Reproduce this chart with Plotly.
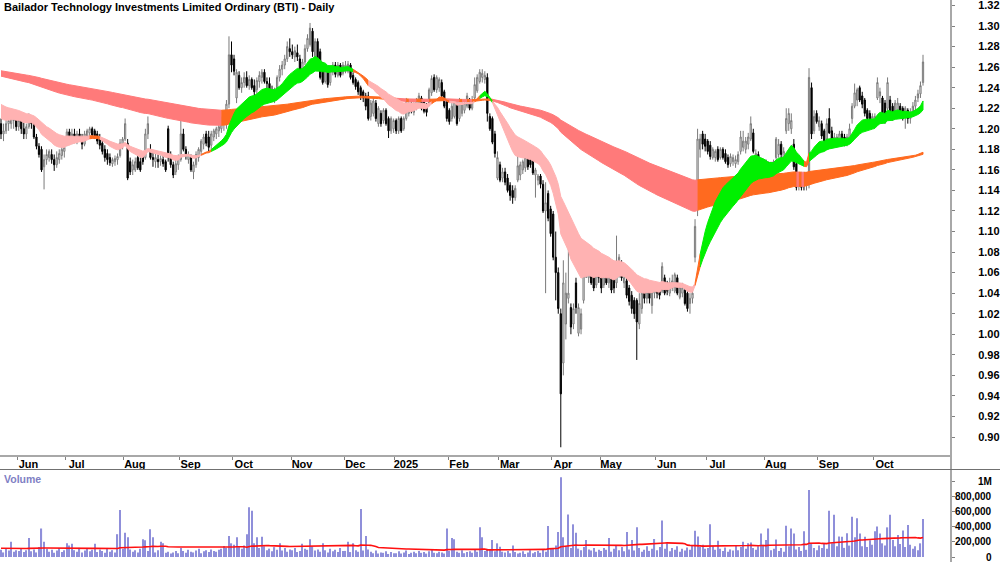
import numpy as np
import pandas as pd
import plotly.graph_objects as go

TITLE = "Bailador Technology Investments Limited Ordinary (BTI) - Daily"

# ---------------- daily bars per month: (open, high, low, close) ----------------
ohlc_2024_05 = [(1.205,1.21,1.19,1.195),(1.195,1.205,1.188,1.198),(1.198,1.21,1.195,1.205),(1.205,1.212,1.198,1.208),
                (1.205,1.215,1.20,1.212),(1.208,1.215,1.20,1.212),(1.212,1.215,1.198,1.202)]
ohlc_2024_06 = [(1.202,1.21,1.198,1.208),(1.208,1.212,1.195,1.20),(1.20,1.208,1.19,1.195),(1.195,1.205,1.19,1.202),
                (1.202,1.215,1.20,1.21),(1.21,1.212,1.20,1.205),(1.205,1.208,1.19,1.192),(1.192,1.195,1.18,1.183),
                (1.183,1.186,1.172,1.175),(1.18,1.183,1.158,1.16),(1.163,1.175,1.141,1.17),(1.17,1.18,1.165,1.175),
                (1.172,1.18,1.168,1.178),(1.175,1.18,1.166,1.17),(1.17,1.175,1.159,1.165),(1.165,1.178,1.162,1.172),
                (1.17,1.18,1.166,1.176),(1.174,1.183,1.17,1.18),(1.178,1.185,1.172,1.182)]
ohlc_2024_07 = [(1.185,1.20,1.183,1.197),(1.197,1.20,1.185,1.188),(1.19,1.20,1.185,1.195),(1.195,1.20,1.186,1.19),
                (1.19,1.198,1.185,1.195),(1.195,1.20,1.188,1.192),(1.192,1.195,1.18,1.185),(1.185,1.198,1.183,1.195),
                (1.193,1.20,1.19,1.198),(1.196,1.202,1.19,1.20),(1.20,1.202,1.192,1.194),(1.198,1.20,1.19,1.193),
                (1.195,1.198,1.185,1.188),(1.19,1.195,1.18,1.184),(1.186,1.19,1.175,1.178),(1.18,1.184,1.168,1.172),
                (1.176,1.18,1.165,1.17),(1.172,1.176,1.164,1.167),(1.166,1.172,1.163,1.17),(1.168,1.174,1.164,1.171),
                (1.17,1.176,1.165,1.173),(1.174,1.19,1.172,1.186),(1.184,1.192,1.18,1.19)]
ohlc_2024_08 = [(1.19,1.21,1.188,1.205),(1.186,1.19,1.15,1.152),(1.168,1.172,1.155,1.158),(1.16,1.17,1.155,1.165),
                (1.16,1.172,1.158,1.168),(1.172,1.176,1.16,1.162),(1.168,1.172,1.158,1.16),(1.172,1.176,1.165,1.168),
                (1.172,1.20,1.17,1.195),(1.195,1.212,1.19,1.205),(1.18,1.185,1.17,1.172),(1.172,1.178,1.163,1.17),
                (1.168,1.176,1.162,1.172),(1.17,1.175,1.162,1.168),(1.168,1.174,1.164,1.171),(1.17,1.175,1.163,1.166),
                (1.168,1.17,1.158,1.16),(1.20,1.203,1.168,1.172),(1.175,1.178,1.162,1.165),(1.165,1.168,1.152,1.155),
                (1.158,1.17,1.155,1.166),(1.165,1.175,1.16,1.172)]
ohlc_2024_09 = [(1.17,1.21,1.168,1.195),(1.195,1.20,1.178,1.18),(1.18,1.183,1.17,1.175),(1.17,1.178,1.166,1.175),
                (1.172,1.175,1.158,1.16),(1.158,1.168,1.151,1.165),(1.165,1.178,1.162,1.175),(1.172,1.182,1.168,1.18),
                (1.178,1.19,1.175,1.188),(1.185,1.195,1.18,1.192),(1.195,1.198,1.183,1.186),(1.192,1.198,1.178,1.182),
                (1.184,1.198,1.18,1.195),(1.192,1.20,1.188,1.198),(1.195,1.202,1.19,1.20),(1.198,1.205,1.192,1.202),
                (1.20,1.212,1.196,1.208),(1.205,1.215,1.198,1.212),(1.205,1.228,1.20,1.224),(1.224,1.29,1.22,1.272),
                (1.272,1.285,1.255,1.262)]
ohlc_2024_10 = [(1.268,1.272,1.252,1.256),(1.23,1.258,1.225,1.255),(1.252,1.256,1.238,1.24),(1.24,1.25,1.235,1.245),
                (1.245,1.255,1.24,1.25),(1.25,1.256,1.24,1.242),(1.242,1.252,1.238,1.248),(1.248,1.25,1.238,1.24),
                (1.242,1.248,1.232,1.236),(1.238,1.25,1.234,1.247),(1.246,1.256,1.24,1.252),(1.25,1.258,1.244,1.255),
                (1.255,1.258,1.244,1.246),(1.246,1.25,1.238,1.244),(1.244,1.25,1.232,1.236),(1.236,1.242,1.226,1.23),
                (1.232,1.24,1.225,1.238),(1.238,1.252,1.235,1.25),(1.25,1.262,1.246,1.258),(1.258,1.266,1.252,1.262),
                (1.262,1.272,1.258,1.268),(1.268,1.285,1.265,1.28),(1.278,1.288,1.27,1.275)]
ohlc_2024_11 = [(1.275,1.282,1.268,1.272),(1.27,1.28,1.265,1.276),(1.274,1.282,1.266,1.27),(1.268,1.272,1.25,1.252),
                (1.252,1.268,1.25,1.265),(1.265,1.282,1.262,1.278),(1.278,1.292,1.275,1.288),(1.282,1.303,1.28,1.298),
                (1.295,1.298,1.27,1.275),(1.27,1.288,1.268,1.285),(1.285,1.288,1.258,1.26),(1.275,1.278,1.248,1.25),
                (1.262,1.265,1.243,1.245),(1.246,1.262,1.244,1.258),(1.255,1.258,1.24,1.243),(1.245,1.262,1.242,1.26),
                (1.255,1.265,1.252,1.262),(1.262,1.265,1.25,1.253),(1.252,1.265,1.25,1.262),(1.262,1.264,1.25,1.252),
                (1.254,1.265,1.252,1.262)]
ohlc_2024_12 = [(1.256,1.266,1.254,1.262),(1.256,1.266,1.254,1.263),(1.262,1.264,1.248,1.25),(1.252,1.255,1.243,1.245),
                (1.248,1.25,1.238,1.241),(1.245,1.247,1.233,1.236),(1.24,1.242,1.228,1.232),(1.236,1.238,1.226,1.23),
                (1.232,1.235,1.218,1.222),(1.232,1.236,1.208,1.21),(1.212,1.228,1.208,1.225),(1.215,1.23,1.212,1.227),
                (1.225,1.228,1.207,1.21),(1.205,1.222,1.202,1.22),(1.215,1.218,1.202,1.205),(1.208,1.22,1.205,1.218),
                (1.218,1.22,1.203,1.205),(1.21,1.212,1.191,1.198),(1.198,1.212,1.195,1.21),(1.20,1.21,1.196,1.208)]
ohlc_2025_01 = [(1.208,1.21,1.195,1.198),(1.198,1.212,1.195,1.21),(1.21,1.212,1.196,1.198),(1.20,1.212,1.198,1.21),
                (1.21,1.23,1.208,1.227),(1.215,1.228,1.212,1.225),(1.225,1.228,1.215,1.217),(1.216,1.226,1.213,1.224),
                (1.22,1.23,1.218,1.228),(1.222,1.235,1.22,1.232),(1.23,1.232,1.218,1.22),(1.226,1.228,1.215,1.217),
                (1.222,1.225,1.212,1.216),(1.225,1.24,1.222,1.238),(1.235,1.252,1.232,1.249),(1.25,1.253,1.236,1.238),
                (1.238,1.252,1.235,1.25),(1.24,1.25,1.236,1.248),(1.245,1.248,1.23,1.232),(1.236,1.238,1.22,1.222),
                (1.226,1.228,1.207,1.21)]
ohlc_2025_02 = [(1.218,1.22,1.204,1.207),(1.21,1.225,1.207,1.222),(1.212,1.228,1.21,1.226),(1.224,1.226,1.203,1.205),
                (1.21,1.23,1.207,1.228),(1.215,1.228,1.212,1.225),(1.218,1.228,1.215,1.225),(1.222,1.235,1.22,1.232),
                (1.225,1.23,1.218,1.22),(1.22,1.232,1.218,1.228),(1.23,1.25,1.228,1.243),(1.237,1.253,1.235,1.25),
                (1.246,1.258,1.244,1.255),(1.25,1.258,1.245,1.254),(1.248,1.256,1.244,1.252),(1.25,1.254,1.207,1.215),
                (1.212,1.215,1.198,1.20),(1.21,1.212,1.185,1.187),(1.195,1.198,1.172,1.176),(1.152,1.178,1.15,1.172)]
ohlc_2025_03 = [(1.165,1.168,1.148,1.15),(1.152,1.162,1.148,1.158),(1.158,1.162,1.145,1.148),(1.152,1.156,1.138,1.14),
                (1.145,1.148,1.13,1.135),(1.14,1.145,1.127,1.133),(1.133,1.145,1.13,1.142),(1.15,1.181,1.148,1.164),
                (1.155,1.168,1.15,1.165),(1.16,1.17,1.156,1.168),(1.162,1.175,1.158,1.172),(1.175,1.181,1.16,1.163),
                (1.178,1.18,1.162,1.165),(1.17,1.172,1.155,1.157),(1.155,1.162,1.133,1.16),(1.15,1.156,1.145,1.154),
                (1.154,1.156,1.142,1.146),(1.146,1.15,1.118,1.12),(1.12,1.148,1.04,1.128),(1.137,1.14,1.11,1.113),
                (1.122,1.125,1.095,1.098)]
ohlc_2025_04 = [(1.117,1.12,1.072,1.075),(1.075,1.10,1.033,1.06),(1.06,1.065,1.02,1.025),(1.02,1.025,0.89,0.942),
                (0.972,1.072,0.96,1.05),(1.01,1.06,0.995,1.04),(1.035,1.11,1.03,1.04),(1.026,1.03,1.0,1.007),
                (1.01,1.03,1.005,1.025),(1.05,1.055,1.02,1.026),(1.001,1.03,0.998,1.026),(1.005,1.025,1.0,1.02),
                (1.033,1.07,1.03,1.065),(1.075,1.08,1.055,1.059),(1.055,1.07,1.05,1.065),(1.062,1.068,1.048,1.05),
                (1.065,1.07,1.042,1.045),(1.048,1.07,1.045,1.065),(1.068,1.07,1.05,1.055)]
ohlc_2025_05 = [(1.065,1.068,1.04,1.045),(1.048,1.065,1.045,1.06),(1.06,1.065,1.048,1.05),(1.05,1.062,1.045,1.058),
                (1.06,1.063,1.04,1.043),(1.055,1.058,1.04,1.045),(1.05,1.096,1.045,1.068),(1.058,1.078,1.055,1.075),
                (1.068,1.072,1.052,1.055),(1.05,1.06,1.045,1.055),(1.052,1.056,1.035,1.038),(1.045,1.048,1.028,1.032),
                (1.038,1.042,1.02,1.025),(1.033,1.036,1.015,1.02),(1.033,1.035,0.975,1.012),(1.01,1.04,1.005,1.03),
                (1.025,1.05,1.02,1.04),(1.045,1.05,1.03,1.035),(1.035,1.052,1.03,1.048),(1.045,1.05,1.03,1.035),
                (1.028,1.05,1.02,1.045),(1.04,1.05,1.035,1.048)]
ohlc_2025_06 = [(1.045,1.05,1.035,1.04),(1.046,1.05,1.034,1.038),(1.042,1.07,1.04,1.066),(1.055,1.058,1.038,1.04),
                (1.05,1.052,1.038,1.042),(1.04,1.055,1.037,1.05),(1.045,1.058,1.042,1.052),(1.042,1.06,1.04,1.058),
                (1.055,1.058,1.038,1.04),(1.036,1.05,1.034,1.046),(1.04,1.05,1.036,1.045),(1.043,1.046,1.028,1.03),
                (1.04,1.042,1.022,1.025),(1.03,1.04,1.02,1.035),(1.035,1.045,1.03,1.04),(1.075,1.112,1.07,1.105),
                (1.13,1.20,1.115,1.19),(1.18,1.195,1.172,1.19),(1.195,1.198,1.18,1.185),(1.19,1.195,1.178,1.183)]
ohlc_2025_07 = [(1.188,1.19,1.175,1.178),(1.184,1.188,1.17,1.173),(1.172,1.182,1.17,1.18),(1.172,1.18,1.168,1.178),
                (1.18,1.183,1.168,1.17),(1.172,1.182,1.17,1.18),(1.18,1.182,1.17,1.172),(1.176,1.18,1.166,1.168),
                (1.172,1.175,1.162,1.165),(1.166,1.176,1.163,1.173),(1.168,1.175,1.164,1.172),(1.166,1.174,1.162,1.17),
                (1.168,1.178,1.165,1.175),(1.178,1.198,1.175,1.192),(1.182,1.198,1.178,1.188),(1.18,1.192,1.176,1.188),
                (1.185,1.196,1.18,1.192),(1.19,1.212,1.188,1.205),(1.196,1.20,1.176,1.178),(1.168,1.18,1.165,1.176),
                (1.175,1.178,1.163,1.166),(1.17,1.172,1.155,1.158),(1.158,1.17,1.146,1.165)]
ohlc_2025_08 = [(1.168,1.17,1.15,1.155),(1.165,1.168,1.15,1.154),(1.155,1.168,1.15,1.165),(1.16,1.17,1.155,1.168),
                (1.172,1.192,1.17,1.19),(1.175,1.19,1.172,1.185),(1.185,1.188,1.17,1.175),(1.172,1.182,1.17,1.178),
                (1.198,1.22,1.195,1.21),(1.205,1.22,1.198,1.215),(1.20,1.215,1.195,1.208),(1.185,1.19,1.16,1.163),
                (1.166,1.17,1.14,1.143),(1.145,1.158,1.14,1.155),(1.156,1.158,1.14,1.143),(1.155,1.158,1.14,1.145),
                (1.145,1.158,1.14,1.155),(1.146,1.259,1.142,1.25),(1.24,1.245,1.19,1.195),(1.198,1.218,1.195,1.212),
                (1.215,1.218,1.205,1.207)]
ohlc_2025_09 = [(1.202,1.212,1.198,1.208),(1.205,1.208,1.19,1.193),(1.198,1.20,1.186,1.188),(1.19,1.21,1.188,1.205),
                (1.21,1.22,1.195,1.196),(1.198,1.202,1.188,1.19),(1.186,1.196,1.184,1.192),(1.188,1.195,1.183,1.192),
                (1.188,1.198,1.185,1.195),(1.195,1.198,1.186,1.188),(1.192,1.195,1.183,1.186),(1.185,1.195,1.183,1.192),
                (1.19,1.205,1.188,1.20),(1.21,1.225,1.205,1.222),(1.222,1.244,1.22,1.235),(1.228,1.24,1.222,1.238),
                (1.24,1.242,1.226,1.228),(1.232,1.236,1.22,1.224),(1.228,1.23,1.212,1.215),(1.218,1.22,1.208,1.21),
                (1.215,1.218,1.205,1.208),(1.206,1.215,1.202,1.212)]
ohlc_2025_10 = [(1.208,1.215,1.205,1.212),(1.23,1.25,1.228,1.245),(1.232,1.24,1.225,1.236),(1.23,1.232,1.21,1.212),
                (1.225,1.228,1.205,1.208),(1.22,1.25,1.218,1.245),(1.228,1.232,1.21,1.212),(1.222,1.225,1.208,1.21),
                (1.212,1.228,1.21,1.225),(1.215,1.23,1.212,1.225),(1.222,1.225,1.21,1.212),(1.22,1.222,1.208,1.21),
                (1.212,1.222,1.20,1.22),(1.218,1.22,1.205,1.21),(1.21,1.22,1.205,1.215),(1.215,1.226,1.212,1.222),
                (1.222,1.232,1.218,1.228),(1.23,1.238,1.226,1.234),(1.234,1.246,1.23,1.242),(1.245,1.272,1.242,1.265)]

# ---------------- daily volume per month (thousands of shares) ----------------
vol_2024_05 = [95, 60, 110, 85, 200, 70, 90]
vol_2024_06 = [80, 120, 65, 90, 250, 75, 100, 60, 130, 375, 200, 110, 70, 95, 55, 85, 120, 65, 90]
vol_2024_07 = [180, 150, 175, 90, 70, 120, 60, 85, 110, 75, 95, 175, 65, 100, 80, 55, 120, 70, 90, 60, 300, 620, 110]
vol_2024_08 = [320, 260, 100, 70, 90, 60, 110, 235, 220, 80, 365, 260, 60, 90, 200, 180, 55, 70, 45, 60, 80, 50]
vol_2024_09 = [120, 80, 55, 95, 70, 60, 85, 110, 50, 75, 90, 65, 100, 80, 70, 95, 110, 145, 120, 275, 180]
vol_2024_10 = [160, 260, 130, 110, 150, 300, 655, 610, 180, 260, 120, 268, 140, 90, 110, 75, 130, 95, 180, 85, 120, 70, 100]
vol_2024_11 = [90, 120, 65, 80, 175, 110, 95, 235, 140, 85, 100, 70, 180, 90, 60, 110, 75, 95, 65, 120, 80]
vol_2024_12 = [80, 200, 65, 180, 90, 70, 630, 85, 275, 100, 70, 50, 85, 45, 60, 55, 75, 40, 65, 50]
vol_2025_01 = [50, 75, 45, 60, 85, 40, 55, 70, 50, 80, 55, 65, 45, 75, 95, 55, 50, 70, 60, 45, 375]
vol_2025_02 = [80, 250, 235, 70, 55, 90, 50, 65, 75, 55, 100, 70, 390, 260, 80, 110, 95, 225, 75, 180]
vol_2025_03 = [136, 70, 60, 80, 50, 150, 65, 45, 55, 75, 40, 60, 90, 50, 65, 80, 55, 95, 70, 408, 110]
vol_2025_04 = [110, 150, 330, 1050, 260, 140, 560, 120, 430, 320, 110, 90, 130, 225, 100, 85, 120, 70, 95]
vol_2025_05 = [80, 120, 95, 250, 70, 110, 150, 90, 130, 75, 330, 100, 225, 85, 390, 120, 70, 95, 140, 80, 110, 237]
vol_2025_06 = [90, 130, 480, 110, 180, 75, 120, 95, 140, 70, 110, 85, 125, 95, 150, 345, 270, 130, 160, 110]
vol_2025_07 = [120, 430, 140, 95, 215, 110, 80, 125, 70, 100, 85, 150, 90, 130, 200, 110, 180, 190, 120, 95, 140, 310, 160]
vol_2025_08 = [225, 375, 90, 110, 230, 80, 120, 70, 410, 140, 375, 310, 100, 130, 80, 340, 95, 880, 180, 120, 90]
vol_2025_09 = [150, 120, 170, 110, 610, 180, 555, 140, 270, 265, 120, 312, 150, 530, 260, 510, 310, 140, 265, 130, 220, 160]
vol_2025_10 = [340, 400, 310, 180, 150, 390, 555, 225, 140, 290, 170, 350, 130, 420, 160, 110, 140, 90, 180, 500]

month_labels = ["Jun", "Jul", "Aug", "Sep", "Oct", "Nov", "Dec", "2025", "Feb", "Mar",
                "Apr", "May", "Jun", "Jul", "Aug", "Sep", "Oct"]
price_ticks = [0.90, 0.92, 0.94, 0.96, 0.98, 1.00, 1.02, 1.04, 1.06, 1.08, 1.10,
               1.12, 1.14, 1.16, 1.18, 1.20, 1.22, 1.24, 1.26, 1.28, 1.30, 1.32]
volume_ticks = [0, 200000, 400000, 600000, 800000, 1000000]
volume_tick_text = ["0", "200,000", "400,000", "600,000", "800,000", "1M"]

asx_holidays = ["2024-06-10", "2024-12-25", "2024-12-26", "2025-01-01", "2025-01-27",
                "2025-04-18", "2025-04-21", "2025-04-25", "2025-06-09"]

# moving-average ribbons (EMA periods and their values just before the first bar)
short_periods = [17, 20, 23, 26, 29, 33]
short_seeds = [1.212, 1.2147, 1.2174, 1.22, 1.2227, 1.2255]
long_periods = [150, 168, 186, 204, 222, 240]
long_seeds = [1.252, 1.253, 1.254, 1.255, 1.256, 1.257]
vol_ma_period = 50
vol_ma_seed = 115000

# ---------------- assemble ----------------
ohlc_months = [ohlc_2024_05, ohlc_2024_06, ohlc_2024_07, ohlc_2024_08, ohlc_2024_09, ohlc_2024_10,
               ohlc_2024_11, ohlc_2024_12, ohlc_2025_01, ohlc_2025_02, ohlc_2025_03, ohlc_2025_04,
               ohlc_2025_05, ohlc_2025_06, ohlc_2025_07, ohlc_2025_08, ohlc_2025_09, ohlc_2025_10]
vol_months = [vol_2024_05, vol_2024_06, vol_2024_07, vol_2024_08, vol_2024_09, vol_2024_10,
              vol_2024_11, vol_2024_12, vol_2025_01, vol_2025_02, vol_2025_03, vol_2025_04,
              vol_2025_05, vol_2025_06, vol_2025_07, vol_2025_08, vol_2025_09, vol_2025_10]
bars = [b for m in ohlc_months for b in m]
volumes = np.array([v * 1000 for m in vol_months for v in m], dtype=float)
N = len(bars)
opens = np.array([b[0] for b in bars])
highs = np.array([b[1] for b in bars])
lows = np.array([b[2] for b in bars])
closes = np.array([b[3] for b in bars])
x = np.arange(N)

dates = pd.bdate_range("2024-05-23", periods=N, freq="C", holidays=asx_holidays)
month_starts = [i for i in range(1, N) if dates[i].month != dates[i - 1].month]


def ema(values, n, seed):
    a = 2.0 / (n + 1)
    out, e = [], seed
    for v in values:
        e = e + a * (v - e)
        out.append(e)
    return np.array(out)


def ribbon(periods, seeds, use_slope):
    E = np.array([ema(closes, n, s) for n, s in zip(periods, seeds)])
    bull = np.all(E[:-1] > E[1:], axis=0)
    bear = np.all(E[:-1] < E[1:], axis=0)
    if use_slope:
        prev = np.concatenate([np.array(seeds)[:, None], E[:, :-1]], axis=1)
        slope = E - prev
        bull &= np.all(slope > 0, axis=0)
        bear &= np.all(slope < 0, axis=0)
    state = np.where(bull, 1, np.where(bear, -1, 0))
    return E.max(axis=0), E.min(axis=0), state


MIXED = "#FF6A1F"
short_colors = {1: "#00F000", -1: "#FFB2B2", 0: MIXED}
long_colors = {1: "#3FB86A", -1: "#FF7A7A", 0: MIXED}

fig = go.Figure()


def add_ribbon(top, bot, state, colors):
    runs, s = [], 0
    for i in range(1, N + 1):
        if i == N or state[i] != state[s]:
            runs.append((s, i - 1, state[s]))
            s = i
    for s, e, st in runs:
        e2 = min(e + 1, N - 1)
        xs = list(x[s:e2 + 1])
        ys = list(top[s:e2 + 1]) + list(bot[s:e2 + 1][::-1])
        col = colors[int(st)]
        fig.add_trace(go.Scatter(x=xs + xs[::-1], y=ys, fill="toself", fillcolor=col, mode="lines",
                                 line=dict(color=col, width=1), hoverinfo="skip", showlegend=False,
                                 xaxis="x", yaxis="y"))


lt, lb, ls = ribbon(long_periods, long_seeds, True)
st_, sb, ss = ribbon(short_periods, short_seeds, False)
add_ribbon(lt, lb, ls, long_colors)
add_ribbon(st_, sb, ss, short_colors)

fig.add_trace(go.Candlestick(
    x=x, open=opens, high=highs, low=lows, close=closes,
    increasing=dict(line=dict(color="#7A7A7A", width=1), fillcolor="#FFFFFF"),
    decreasing=dict(line=dict(color="#000000", width=1), fillcolor="#000000"),
    whiskerwidth=0, showlegend=False, hoverinfo="skip", xaxis="x", yaxis="y"))

padded = np.concatenate([np.full(vol_ma_period - 1, vol_ma_seed), volumes])
vol_ma = pd.Series(padded).rolling(vol_ma_period).mean().to_numpy()[vol_ma_period - 1:]

fig.add_trace(go.Bar(x=x, y=volumes, width=0.45, marker=dict(color="#8F8FDA", line=dict(width=0)),
                     showlegend=False, hoverinfo="skip", xaxis="x2", yaxis="y2"))
fig.add_trace(go.Scatter(x=x, y=vol_ma, mode="lines", line=dict(color="#FF1010", width=1.6),
                         showlegend=False, hoverinfo="skip", xaxis="x2", yaxis="y2"))

FONT = "Liberation Sans, Arial, sans-serif"
W, H = 1000, 562
px_per_bar = 2.533
r0 = -1.0 / px_per_bar
r1 = r0 + 950 / px_per_bar


def py(ypx):
    return (H - ypx) / H


fig.update_layout(
    width=W, height=H, margin=dict(l=0, r=0, t=0, b=0), autosize=False,
    paper_bgcolor="white", plot_bgcolor="white", showlegend=False,
    xaxis=dict(domain=[0, 0.95], range=[r0, r1], anchor="y",
               tickvals=[m - 0.5 for m in month_starts], ticktext=month_labels,
               ticks="outside", ticklen=3, tickcolor="#808080",
               showline=True, linecolor="#A8A8A8", linewidth=2, showgrid=False, zeroline=False,
               tickfont=dict(family=FONT, size=11, color="#000000", weight="bold"),
               ticklabelshift=11, ticklabelstandoff=-5,
               rangeslider=dict(visible=False), automargin=False),
    yaxis=dict(domain=[py(455), 1], range=[0.88248, 1.32535], side="right", anchor="x",
               tickvals=price_ticks, tickformat=".2f", ticks="outside", ticklen=4, tickcolor="#808080",
               showgrid=False, zeroline=False, showline=False, automargin=False,
               tickfont=dict(family=FONT, size=11, color="#000000", weight="bold"),
               ticklabelstandoff=21, ticklabeloverflow="allow"),
    xaxis2=dict(domain=[0, 0.95], range=[r0, r1], anchor="y2", matches="x",
                showticklabels=False, ticks="", showgrid=False, zeroline=False, showline=False),
    yaxis2=dict(domain=[0, py(470)], range=[-65789, 1144737], side="right", anchor="x2",
                tickvals=volume_ticks, showticklabels=False, ticks="outside", ticklen=4,
                tickcolor="#808080", showgrid=False, zeroline=False, showline=False, automargin=False),
    shapes=[
        dict(type="line", xref="paper", yref="paper", x0=0.951, x1=0.951, y0=0, y1=1,
             line=dict(color="#A8A8A8", width=2)),
        dict(type="line", xref="paper", yref="paper", x0=0, x1=1, y0=py(469.5), y1=py(469.5),
             line=dict(color="#707070", width=1)),
    ],
)

annotations = [
    dict(text="<b>" + TITLE + "</b>", xref="paper", yref="paper", x=0.002, y=1.002, xanchor="left",
         yanchor="top", showarrow=False, font=dict(family=FONT, size=11, color="#000000")),
    dict(text="<b>Volume</b>", xref="paper", yref="paper", x=0.002, y=py(471), xanchor="left",
         yanchor="top", showarrow=False, font=dict(family=FONT, size=10.5, color="#8080C4")),
]
for v, t in zip(volume_ticks, volume_tick_text):
    annotations.append(dict(text="<b>" + t + "</b>", xref="paper", yref="y2", x=0.994, y=v,
                            xanchor="right", yanchor="middle", showarrow=False,
                            font=dict(family=FONT, size=10, color="#000000")))
fig.update_layout(annotations=annotations)

fig.write_html("out.html")
